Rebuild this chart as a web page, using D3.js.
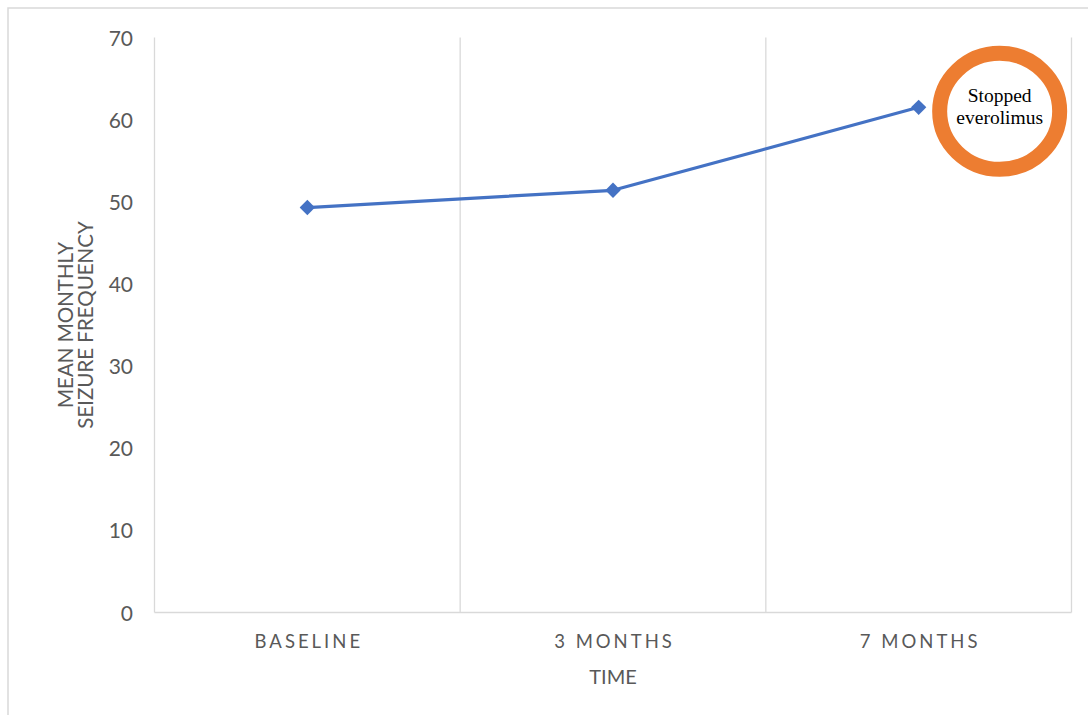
<!DOCTYPE html>
<html><head><meta charset="utf-8">
<script src="https://cdn.jsdelivr.net/npm/d3@7"></script>
<style>html,body{margin:0;padding:0;background:#fff;}svg{display:block;}</style>
</head><body>
<svg id="chart" width="1088" height="715"></svg>
<script>
const categories = ["BASELINE", "3 MONTHS", "7 MONTHS"];
const seizureFreq = [49.3, 51.4, 61.5];
const yTicks = [0, 10, 20, 30, 40, 50, 60, 70];
const yTitleLines = ["MEAN MONTHLY", "SEIZURE FREQUENCY"];
const xTitle = "TIME";
const annotationLines = ["Stopped", "everolimus"];

const svg = d3.select("#chart");
const grid = "#d9d9d9", txt = "#595959", blue = "#4472C4", orange = "#ED7D31";
const font = "Lato, 'Open Sans', sans-serif";

// outer frame
svg.append("rect").attr("x", 8).attr("y", 8).attr("width", 1095).attr("height", 720)
  .attr("fill", "none").attr("stroke", grid).attr("stroke-width", 1.5);

const x = d3.scaleBand().domain(categories).range([154.5, 1071.5]).paddingInner(0).paddingOuter(0);
const y = d3.scaleLinear().domain([0, 70]).range([612.5, 37.5]);

// vertical gridlines at band boundaries
const edges = categories.map(c => x(c)).concat([x(categories[categories.length-1]) + x.bandwidth()]);
svg.append("g").selectAll("line").data(edges).join("line")
  .attr("x1", d => d).attr("x2", d => d).attr("y1", y(70)).attr("y2", y(0))
  .attr("stroke", grid).attr("stroke-width", 1.3);
// bottom axis line
svg.append("line").attr("x1", edges[0]).attr("x2", edges[edges.length-1])
  .attr("y1", y(0)).attr("y2", y(0)).attr("stroke", grid).attr("stroke-width", 1.5);

// y axis tick labels
const yAxis = d3.axisLeft(y).tickValues(yTicks).tickSize(0).tickPadding(0);
const gy = svg.append("g").attr("transform", "translate(133,0)").call(yAxis);
gy.select(".domain").remove();
gy.selectAll("text").attr("font-family", font).attr("font-size", 21).attr("fill", txt).attr("dy", "0.36em");

// x axis category labels
const xAxis = d3.axisBottom(x).tickSize(0).tickPadding(0);
const gx = svg.append("g").attr("transform", "translate(1.5,648)").call(xAxis);
gx.select(".domain").remove();
gx.selectAll("text").attr("font-family", font).attr("font-size", 18.5).attr("fill", txt)
  .attr("letter-spacing", "3px").attr("dy", 0).attr("y", 0);

// axis titles
svg.append("text").attr("x", x(categories[1]) + x.bandwidth()/2).attr("y", 684)
  .attr("text-anchor", "middle").attr("font-family", font).attr("font-size", 20).attr("fill", txt)
  .text(xTitle);
const yt = svg.append("text").attr("transform", "translate(72.5,325) rotate(-90)")
  .attr("text-anchor", "middle").attr("font-family", font).attr("font-size", 20.5).attr("fill", txt);
yTitleLines.forEach((l, i) => yt.append("tspan").attr("x", 0).attr("y", i * 20).text(l));

// line
const pts = categories.map((c, i) => [x(c) + x.bandwidth()/2, y(seizureFreq[i])]);
svg.append("path").datum(pts).attr("d", d3.line()).attr("fill", "none")
  .attr("stroke", blue).attr("stroke-width", 3.2).attr("stroke-linejoin", "round");
svg.append("g").selectAll("path").data(pts).join("path")
  .attr("d", d3.symbol(d3.symbolDiamond2, 150)())
  .attr("transform", d => `translate(${d[0]},${d[1]})`).attr("fill", blue);

// annotation circle anchored to last point
const last = pts[pts.length-1];
const cx = last[0] + 81, cy = last[1] + 4;
svg.append("ellipse").attr("cx", cx).attr("cy", cy).attr("rx", 60).attr("ry", 58)
  .attr("fill", "#fff").attr("stroke", orange).attr("stroke-width", 15);
const at = svg.append("text").attr("text-anchor", "middle")
  .attr("font-family", "'Liberation Serif', 'Times New Roman', serif").attr("font-size", 19.5).attr("fill", "#000");
annotationLines.forEach((l, i) => at.append("tspan").attr("x", cx).attr("y", cy - 9 + i * 22).text(l));
</script>
</body></html>
